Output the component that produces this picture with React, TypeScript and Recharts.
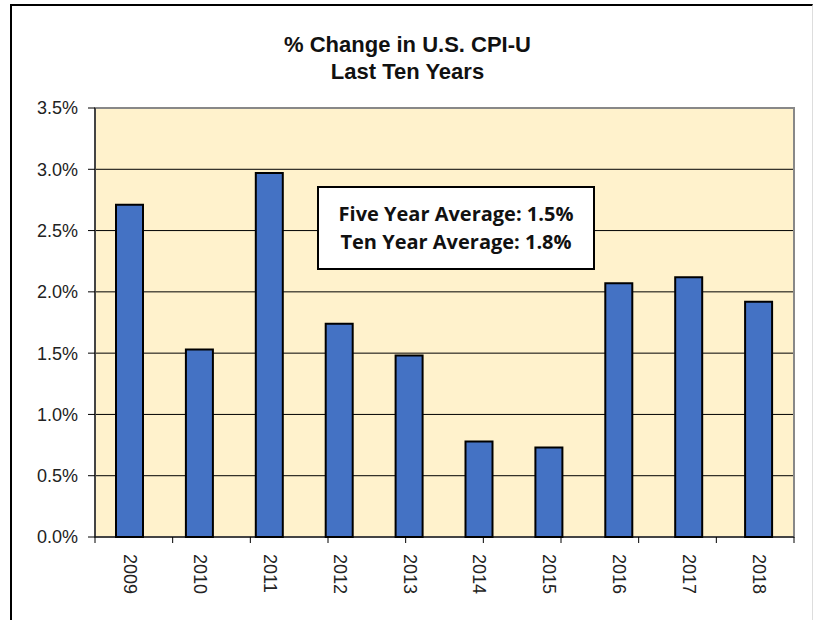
import React from 'react';
import {
  BarChart,
  Bar,
  XAxis,
  YAxis,
  CartesianGrid,
  ReferenceArea,
} from 'recharts';

// Data
const years = ['2009', '2010', '2011', '2012', '2013', '2014', '2015', '2016', '2017', '2018'];
const cpiChange = [2.71, 1.53, 2.97, 1.74, 1.48, 0.78, 0.73, 2.07, 2.12, 1.92];
const yTicks = [0, 0.5, 1.0, 1.5, 2.0, 2.5, 3.0, 3.5];
const boundaryTicks = [0, 1, 2, 3, 4, 5, 6, 7, 8, 9, 10];
const titleLines = ['% Change in U.S. CPI-U', 'Last Ten Years'];
const noteLines = ['Five Year Average: 1.5%', 'Ten Year Average: 1.8%'];

const chartData = years.map((year, i) => ({ year, value: cpiChange[i] }));

const FONT = 'Arial, "Liberation Sans", sans-serif';

const YearTick = (props: any) => {
  const { x, y, payload } = props;
  return (
    <text
      x={x}
      y={y}
      transform={`rotate(90, ${x}, ${y})`}
      dx={8}
      dy={6}
      textAnchor="start"
      fontFamily={FONT}
      fontSize={18}
      fill="#222"
    >
      {payload.value}
    </text>
  );
};

const EmptyTick = () => <g />;

export default function App() {
  return (
    <div
      style={{
        position: 'absolute',
        left: 0,
        top: 0,
        width: 815,
        height: 620,
        background: '#fff',
        fontFamily: FONT,
      }}
    >
      {/* outer frame */}
      <div
        style={{
          position: 'absolute',
          left: 10,
          top: 4,
          width: 803,
          height: 616,
          borderTop: '2px solid #000',
          borderLeft: '2px solid #000',
          borderRight: '1px solid #ddd',
          boxSizing: 'border-box',
        }}
      />

      <div
        style={{
          position: 'absolute',
          left: 0,
          width: 815,
          top: 31,
          textAlign: 'center',
          fontWeight: 'bold',
          fontSize: 22,
          lineHeight: '27px',
          color: '#111',
        }}
      >
        {titleLines.map((t) => (
          <div key={t}>{t}</div>
        ))}
      </div>

      <BarChart
        width={815}
        height={620}
        data={chartData}
        margin={{ top: 108, right: 21, bottom: 0, left: 35 }}
        barSize={27}
        style={{ position: 'absolute', left: 0, top: 0 }}
      >
        <CartesianGrid
          vertical={false}
          stroke="#000"
          fill="#FFF2CC"
          fillOpacity={1}
        />
        <ReferenceArea
          yAxisId={0}
          xAxisId="cat"
          y1={0}
          y2={3.5}
          fill="none"
          stroke="#888"
          strokeWidth={2}
        />
        <XAxis
          xAxisId="bounds"
          type="number"
          domain={[0, 10]}
          ticks={boundaryTicks}
          tick={<EmptyTick />}
          tickLine={{ stroke: '#000' }}
          tickSize={6}
          axisLine={{ stroke: '#000' }}
          interval={0}
          height={1}
        />
        <XAxis
          xAxisId="cat"
          dataKey="year"
          tick={<YearTick />}
          tickLine={false}
          axisLine={false}
          interval={0}
          height={82}
        />
        <YAxis
          domain={[0, 3.5]}
          ticks={yTicks}
          tickFormatter={(v: number) => `${v.toFixed(1)}%`}
          tick={{ fill: '#222', fontSize: 18, fontFamily: FONT }}
          tickLine={{ stroke: '#000' }}
          tickSize={7}
          tickMargin={10}
          axisLine={{ stroke: '#000' }}
          width={60}
          interval={0}
        />
        <Bar
          xAxisId="cat"
          dataKey="value"
          fill="#4472C4"
          stroke="#000"
          strokeWidth={2}
          isAnimationActive={false}
        />
      </BarChart>

      <div
        style={{
          position: 'absolute',
          left: 317,
          top: 186,
          width: 278,
          height: 84,
          boxSizing: 'border-box',
          border: '2px solid #000',
          background: '#fff',
          display: 'flex',
          flexDirection: 'column',
          justifyContent: 'center',
          alignItems: 'center',
          fontFamily: '"Open Sans", "Noto Sans", sans-serif',
          fontWeight: 'bold',
          fontSize: 20,
          lineHeight: '28px',
          color: '#111',
        }}
      >
        {noteLines.map((t) => (
          <div key={t}>{t}</div>
        ))}
      </div>
    </div>
  );
}
